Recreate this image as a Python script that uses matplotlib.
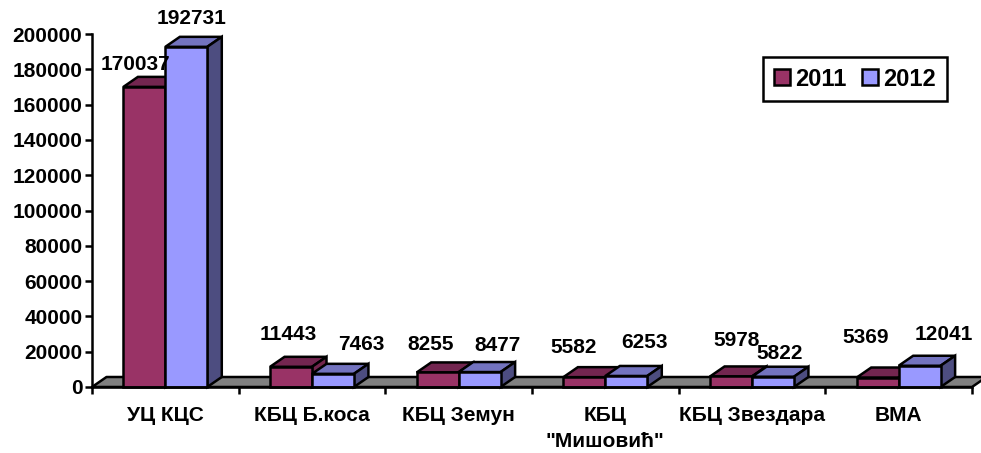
import matplotlib
matplotlib.use("Agg")
import matplotlib.pyplot as plt
from matplotlib.patches import Polygon, Patch

plt.rcParams['font.family'] = ['Liberation Sans', 'DejaVu Sans']
plt.rcParams['font.weight'] = 'bold'

categories = ['УЦ КЦС', 'КБЦ Б.коса', 'КБЦ Земун', 'КБЦ\n"Мишовић"', 'КБЦ Звездара', 'ВМА']
values_2011 = [170037, 11443, 8255, 5582, 5978, 5369]
values_2012 = [192731, 7463, 8477, 6253, 5822, 12041]
y_ticks = [0, 20000, 40000, 60000, 80000, 100000, 120000, 140000, 160000, 180000, 200000]

W, H = 981, 453
L, R, T, B = 92, 972, 34, 387
fig = plt.figure(figsize=(W / 100, H / 100), dpi=100, facecolor='white')
ax = fig.add_axes([L / W, 1 - B / H, (R - L) / W, (B - T) / H])
ax.set_xlim(0, 6)
ax.set_ylim(0, 200000)
ax.patch.set_visible(False)

DX = 14.5 / ((R - L) / 6)
DY = 10 / (B - T) * 200000
BAR = 0.286
LW = 1.8
FS = 15

series = [
    (values_2011, -BAR, '#993366', '#732650', '#73264D'),
    (values_2012, 0, '#9999FF', '#7373BF', '#4D4D80'),
]
label_offsets_2011 = [(-9, 22), (-3, 32), (-7, 28), (-11, 30), (6, 36), (-12, 40)]
label_offsets_2012 = [(5, 28), (28, 29), (18, 27), (18, 33), (7, 23), (24, 31)]

# floor
ax.add_patch(Polygon([(0, 0), (DX, DY), (6 + DX, DY), (6, 0)], closed=True,
                     facecolor='#808080', edgecolor='black', lw=LW, clip_on=False, zorder=1,
                     joinstyle='round'))

z = 2
for i in range(len(categories)):
    for vals, off, front, top, side in series:
        x0 = i + 0.5 + off
        x1 = x0 + BAR
        v = vals[i]
        ax.add_patch(Polygon([(x0, v), (x0 + DX, v + DY), (x1 + DX, v + DY), (x1, v)], closed=True,
                             facecolor=top, edgecolor='black', lw=LW, clip_on=False, zorder=z))
        ax.add_patch(Polygon([(x1, 0), (x1 + DX, DY), (x1 + DX, v + DY), (x1, v)], closed=True,
                             facecolor=side, edgecolor='black', lw=LW, clip_on=False, zorder=z))
        ax.bar(x0, v, width=BAR, align='edge', color=front, edgecolor='black', lw=LW, clip_on=False, zorder=z + 0.5)
        z += 1

for i in range(len(categories)):
    for (vals, off, *_), lab in zip(series, (label_offsets_2011, label_offsets_2012)):
        ax.annotate(str(vals[i]), xy=(i + 0.5 + off + BAR / 2, vals[i]), xytext=lab[i],
                    textcoords='offset pixels', ha='center', va='center', fontsize=FS,
                    fontweight='bold', color='black', zorder=100, annotation_clip=False)

for s in ('top', 'right'):
    ax.spines[s].set_visible(False)
for s in ('left', 'bottom'):
    ax.spines[s].set_linewidth(LW)
    ax.spines[s].set_zorder(60)

ax.set_yticks(y_ticks)
ax.set_yticklabels([str(t) for t in y_ticks], fontsize=FS, fontweight='bold')
ax.tick_params(axis='y', length=5, width=LW, pad=2)
ax.set_xticks(range(7))
ax.set_xticklabels([])
ax.tick_params(axis='x', length=5, width=LW)
ax.set_xticks([i + 0.5 for i in range(6)], minor=True)
ax.set_xticklabels(categories, minor=True, fontsize=FS, fontweight='bold', linespacing=1.45, va='top')
ax.tick_params(axis='x', which='minor', length=0, pad=14)

handles = [Patch(facecolor='#993366', edgecolor='black', lw=LW, label='2011'),
           Patch(facecolor='#9999FF', edgecolor='black', lw=LW, label='2012')]
leg = ax.legend(handles=handles, ncol=2, loc='upper left', bbox_to_anchor=(763 / W, 1 - 57 / H),
                bbox_transform=fig.transFigure, frameon=True, fancybox=False, framealpha=1,
                edgecolor='black', prop={'size': 17, 'weight': 'bold'}, handlelength=0.68,
                handleheight=0.68, handletextpad=0.22, columnspacing=0.68, borderpad=0.45, borderaxespad=0)
leg.get_frame().set_linewidth(LW)
leg.set_zorder(90)

fig.savefig('out.png', dpi=100)
